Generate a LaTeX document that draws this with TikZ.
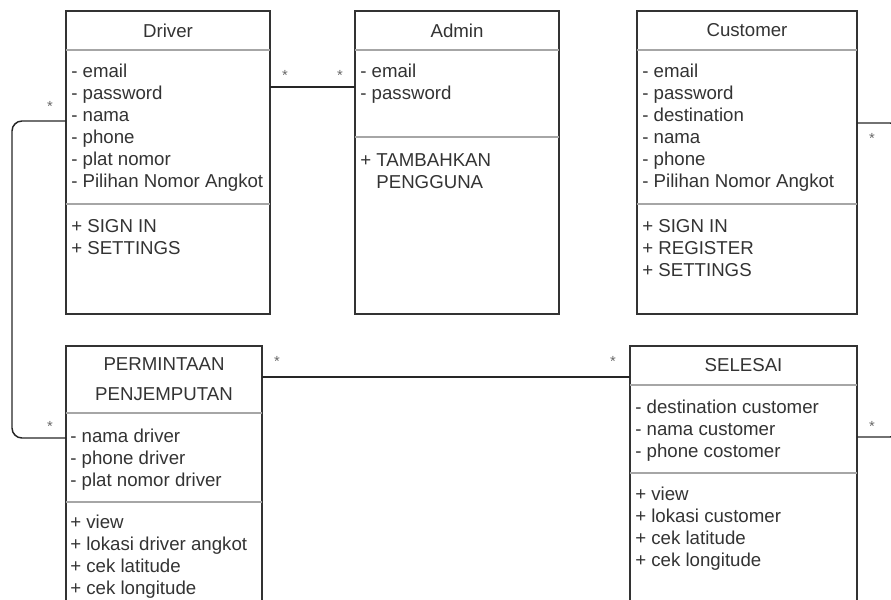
\documentclass[tikz,border=0pt]{standalone}
\usepackage{fontspec}
\setmainfont{Liberation Sans}
\usetikzlibrary{calc}

\tikzset{
  classbox/.style={draw=black!80, line width=0.9pt, inner sep=0pt, outer sep=0pt, anchor=north west},
  sepline/.style={draw=black!35, line width=0.9pt},
  assoc/.style={draw=black!85, line width=1.1pt, rounded corners=7.5pt},
  txt/.style={inner sep=0pt, text=black!80, font=\fontsize{14}{16.5}\selectfont},
  mult/.style={inner sep=0pt, text=black!60, font=\fontsize{11}{12}\selectfont, anchor=base},
}

\begin{document}
\begin{tikzpicture}[x=0.75pt,y=0.75pt,yscale=-1,xscale=1]
        \useasboundingbox (0,0) rectangle (891,599);
        \clip (0,0) rectangle (891,599);

        %Shape: Rectangle [id:driver]
        \node [classbox, minimum width=153pt, minimum height=227.25pt] (driver) at (66,11) {};
        \draw [sepline] (66,50) -- (270,50) (66,204) -- (270,204) ;
        %Shape: Rectangle [id:admin]
        \node [classbox, minimum width=153pt, minimum height=227.25pt] (admin) at (355,11) {};
        \draw [sepline] (355,50) -- (559,50) (355,137) -- (559,137) ;
        %Shape: Rectangle [id:cust]
        \node [classbox, minimum width=165pt, minimum height=227.25pt] (cust) at (637,11) {};
        \draw [sepline] (637,50) -- (857,50) (637,204) -- (857,204) ;
        %Shape: Rectangle [id:perm]
        \node [classbox, minimum width=147pt, minimum height=207pt] (perm) at (66,346) {};
        \draw [sepline] (66,413) -- (262,413) (66,502) -- (262,502) ;
        %Shape: Rectangle [id:selesai]
        \node [classbox, minimum width=170.25pt, minimum height=207pt] (selesai) at (630,346) {};
        \draw [sepline] (630,385) -- (857,385) (630,473) -- (857,473) ;

        % Text Node
        \node [txt, anchor=center] (driverT) at (168,30.5) {Driver};
        % Text Node
        \node [txt, anchor=north west, align=left] (driverA) at (71,63.4) {- email\\- password\\- nama\\- phone\\- plat nomor\\- Pilihan Nomor Angkot};
        % Text Node
        \node [txt, anchor=north west, align=left] (driverM) at (71,219.5) {+ SIGN IN\\+ SETTINGS};
        % Text Node
        \node [txt, anchor=center] (adminT) at (457,30.5) {Admin};
        % Text Node
        \node [txt, anchor=north west, align=left] (adminA) at (360,63.4) {- email\\- password};
        % Text Node
        \node [txt, anchor=north west, align=left] (adminM) at (360,153.5) {+ TAMBAHKAN\\\hphantom{+ }PENGGUNA};
        % Text Node
        \node [txt, anchor=center] (custT) at (747,30.5) {Customer};
        % Text Node
        \node [txt, anchor=north west, align=left] (custA) at (642,63.4) {- email\\- password\\- destination\\- nama\\- phone\\- Pilihan Nomor Angkot};
        % Text Node
        \node [txt, anchor=north west, align=left] (custM) at (642,219.5) {+ SIGN IN\\+ REGISTER\\+ SETTINGS};
        % Text Node
        \node [txt, anchor=north, align=center, font=\fontsize{14}{22.5}\selectfont] (permT) at (164,357.6) {PERMINTAAN\\PENJEMPUTAN};
        % Text Node
        \node [txt, anchor=north west, align=left] (permA) at (70,428.4) {- nama driver\\- phone driver\\- plat nomor driver};
        % Text Node
        \node [txt, anchor=north west, align=left] (permM) at (70,514.5) {+ view\\+ lokasi driver angkot\\+ cek latitude\\+ cek longitude};
        % Text Node
        \node [txt, anchor=center] (selesaiT) at (743.5,365.5) {SELESAI};
        % Text Node
        \node [txt, anchor=north west, align=left] (selesaiA) at (635,400) {- destination customer\\- nama customer\\- phone costomer};
        % Text Node
        \node [txt, anchor=north west, align=left] (selesaiM) at (635,486.5) {+ view\\+ lokasi customer\\+ cek latitude\\+ cek longitude};

        %Straight Lines [id:driver-admin]
        \draw [assoc] ($(driver.north east)+(0,76)$) -- ($(admin.north west)+(0,76)$) ;
        %Straight Lines [id:driver-perm]
        \draw [assoc] ($(driver.north west)+(0,110)$) -- ++(-54,0) |- ($(perm.north west)+(0,92)$) ;
        %Straight Lines [id:perm-selesai]
        \draw [assoc] ($(perm.north east)+(0,31)$) -- ($(selesai.north west)+(0,31)$) ;
        %Straight Lines [id:cust-selesai]
        \draw [assoc] ($(cust.north east)+(0,112)$) -- ++(43,0) |- ($(selesai.north east)+(0,91)$) ;

        % Text Node
        \node [mult] (m1) at (285,80.5) {*};
        % Text Node
        \node [mult] (m2) at (340,80.5) {*};
        % Text Node
        \node [mult] (m3) at (50,111.5) {*};
        % Text Node
        \node [mult] (m4) at (50,431.5) {*};
        % Text Node
        \node [mult] (m5) at (872,143.5) {*};
        % Text Node
        \node [mult] (m6) at (872,431.5) {*};
        % Text Node
        \node [mult] (m7) at (277,366.5) {*};
        % Text Node
        \node [mult] (m8) at (613,366.5) {*};
\end{tikzpicture}
\end{document}
